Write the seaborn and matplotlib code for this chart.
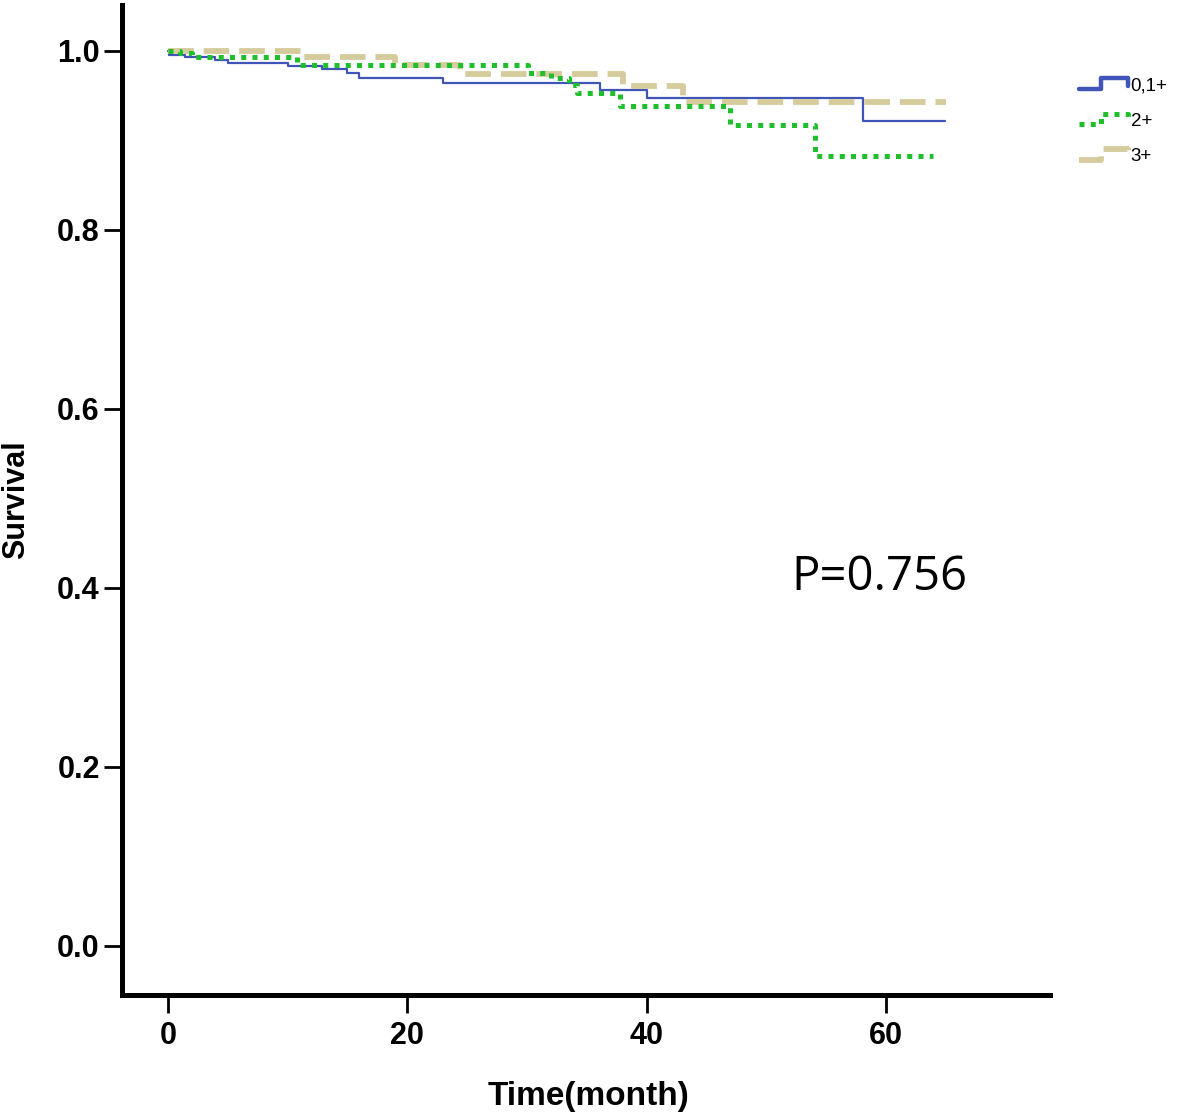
import numpy as np
import pandas as pd
import matplotlib
matplotlib.use("Agg")
import matplotlib.pyplot as plt
import seaborn as sns
from matplotlib.lines import Line2D
from matplotlib.legend_handler import HandlerBase

# ---- data (Kaplan-Meier step points) ----
t_01 = [0.0, 0.1, 1.4, 3.9, 5.0, 10.0, 12.9, 15.0, 16.0, 23.0, 36.1, 40.0, 58.1, 64.9]
s_01 = [1.000, 0.995, 0.993, 0.990, 0.986, 0.983, 0.979, 0.975, 0.970, 0.964, 0.956, 0.947, 0.921, 0.921]

t_2 = [0.0, 1.0, 2.0, 10.8, 30.1, 32.0, 33.5, 34.2, 37.8, 47.0, 54.1, 63.9]
s_2 = [1.000, 0.997, 0.993, 0.984, 0.975, 0.970, 0.962, 0.953, 0.938, 0.917, 0.882, 0.882]

t_3 = [0.0, 11.3, 19.0, 24.4, 38.0, 43.0, 65.0]
s_3 = [1.000, 0.993, 0.984, 0.974, 0.960, 0.943, 0.943]

groups = ["0,1+", "2+", "3+"]
p_text = "P=0.756"
x_ticks = [0, 20, 40, 60]
y_ticks = [0.0, 0.2, 0.4, 0.6, 0.8, 1.0]

# ---- styles ----
colors = {"0,1+": "#3f55b8", "2+": "#1fbf2c", "3+": "#d5cb9c"}
widths = {"0,1+": 1.6, "2+": 3.6, "3+": 4.2}
styles = {"0,1+": "-", "2+": (0, (1.0, 1.25)), "3+": (0, (4.4, 1.7))}

df = pd.concat([
    pd.DataFrame({"time": t_01, "survival": s_01, "group": groups[0]}),
    pd.DataFrame({"time": t_2, "survival": s_2, "group": groups[1]}),
    pd.DataFrame({"time": t_3, "survival": s_3, "group": groups[2]}),
], ignore_index=True)

sns.set_style("white")
for k in ["text.color", "axes.labelcolor", "xtick.color", "ytick.color", "axes.edgecolor"]:
    plt.rcParams[k] = "black"
bold_font = ["Liberation Sans", "DejaVu Sans"]

fig = plt.figure(figsize=(11.81, 11.19), dpi=100)
ax = fig.add_axes([0.1033, 0.1108, 0.7858, 0.8847])

# draw in order: blue, tan, green (green dots on top like the reference)
for g in ["0,1+", "3+", "2+"]:
    sub = df[df["group"] == g]
    sns.lineplot(data=sub, x="time", y="survival", color=colors[g], linewidth=widths[g],
                 linestyle=styles[g], drawstyle="steps-post", estimator=None, sort=False,
                 ax=ax, legend=False)

ax.set_xlim(-3.84, 73.7)
ax.set_ylim(-0.055, 1.051)
ax.set_xticks(x_ticks)
ax.set_yticks(y_ticks)
ax.set_xticklabels([str(v) for v in x_ticks], family=bold_font, fontweight="bold", fontsize=22)
ax.set_yticklabels([f"{v:.1f}" for v in y_ticks], family=bold_font, fontweight="bold", fontsize=22)
ax.set_xlabel("")
ax.set_ylabel("")

for side in ["top", "right"]:
    ax.spines[side].set_visible(False)
for side in ["left", "bottom"]:
    ax.spines[side].set_linewidth(3.6)
    ax.spines[side].set_color("black")
ax.tick_params(axis="x", direction="out", length=13, width=2, color="black", bottom=True, pad=6)
ax.tick_params(axis="y", direction="out", length=13, width=2, color="black", left=True, pad=3)

fig.text(588 / 1181, 1 - 1097 / 1119, "Time(month)", family=bold_font, fontweight="bold",
         fontsize=24, ha="center", va="center")
fig.text(16 / 1181, 1 - 500 / 1119, "Survival", family=bold_font, fontweight="bold",
         fontsize=22, ha="center", va="center", rotation=90)

fig.text(879 / 1181, 1 - 577 / 1119, p_text, ha="center", va="center", fontsize=34,
         family=["Open Sans", "DejaVu Sans"])


class StepHandler(HandlerBase):
    def create_artists(self, legend, orig_handle, xdescent, ydescent, width, height,
                       fontsize, trans):
        x0 = -xdescent
        y0 = -ydescent
        xs = [x0, x0 + 0.45 * width, x0 + 0.45 * width, x0 + width, x0 + width]
        ys = [y0 + 0.1 * height, y0 + 0.1 * height, y0 + 0.9 * height,
              y0 + 0.9 * height, y0 + 0.3 * height]
        ln = Line2D(xs, ys, color=orig_handle.get_color(),
                    linewidth=orig_handle.get_linewidth(), transform=trans)
        ln.set_linestyle(orig_handle._user_ls)
        return [ln]


handles = []
for g in groups:
    h = Line2D([], [], color=colors[g], linewidth=(3.2 if g == "0,1+" else widths[g]))
    h._user_ls = styles[g]
    handles.append(h)

leg = fig.legend(handles, groups, loc="upper left", bbox_to_anchor=(1079 / 1181, 1 - 77 / 1119),
                 frameon=False, handlelength=2.6, handletextpad=0.15,
                 labelspacing=0.98, borderaxespad=0, borderpad=0,
                 handler_map={Line2D: StepHandler()},
                 prop={"family": ["Liberation Sans", "DejaVu Sans"], "size": 13.5})

fig.savefig("out.png", dpi=100)
